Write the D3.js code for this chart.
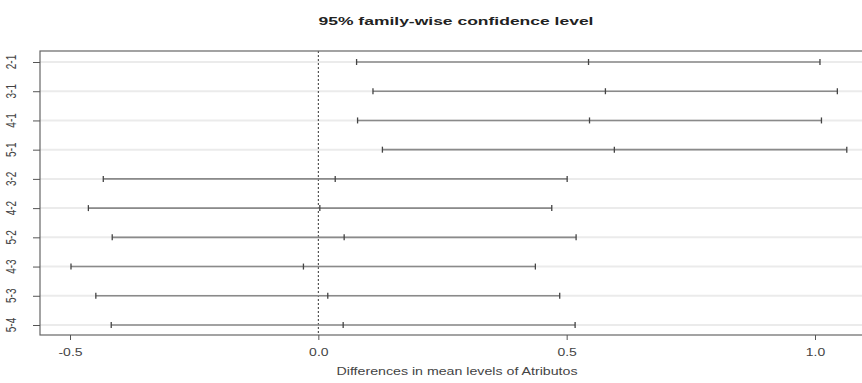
<!DOCTYPE html>
<html>
<head>
<meta charset="utf-8">
<script src="https://cdn.jsdelivr.net/npm/d3@7"></script>
<style>
  html, body { margin: 0; padding: 0; background: #fff; }
  svg { display: block; font-family: "Liberation Sans", Arial, sans-serif; }
</style>
</head>
<body>
<svg id="chart" width="862" height="383"></svg>
<script>
// Tukey HSD pairwise comparisons of Atributos
const comparisons = ["2-1", "3-1", "4-1", "5-1", "3-2", "4-2", "5-2", "4-3", "5-3", "5-4"];
const diffs = [0.544, 0.578, 0.546, 0.596, 0.034, 0.003, 0.052, -0.030, 0.019, 0.050];
const lowers = [0.077, 0.110, 0.079, 0.129, -0.433, -0.463, -0.415, -0.498, -0.448, -0.417];
const uppers = [1.010, 1.045, 1.013, 1.064, 0.501, 0.470, 0.519, 0.437, 0.486, 0.517];
const xTicks = [-0.5, 0.0, 0.5, 1.0];
const xTickLabels = ["-0.5", "0.0", "0.5", "1.0"];

const titleText = "95% family-wise confidence level";
const xLabelText = "Differences in mean levels of Atributos";

const svg = d3.select("#chart");
const box = { left: 40, top: 51, right: 872, bottom: 335 };
const stretch = 1.4; // horizontal glyph stretch of the rendered device

const x = d3.scaleLinear().domain([-0.5, 1.0]).range([70, 815]);
const y = d3.scalePoint().domain(comparisons).range([62, 325]);

// light horizontal guide lines at each comparison
svg.append("g").selectAll("line")
  .data(comparisons)
  .join("line")
  .attr("x1", box.left).attr("x2", box.right)
  .attr("y1", d => y(d)).attr("y2", d => y(d))
  .attr("stroke", "#ebebeb").attr("stroke-width", 2);

// zero reference line
svg.append("line")
  .attr("x1", x(0)).attr("x2", x(0))
  .attr("y1", box.top).attr("y2", box.bottom)
  .attr("stroke", "#333").attr("stroke-width", 1)
  .attr("stroke-dasharray", "2,2");

// confidence intervals
const rows = comparisons.map((c, i) => ({ c, diff: diffs[i], lwr: lowers[i], upr: uppers[i] }));
const ci = svg.append("g");
ci.selectAll("line.ci")
  .data(rows)
  .join("line")
  .attr("class", "ci")
  .attr("x1", d => x(d.lwr)).attr("x2", d => x(d.upr))
  .attr("y1", d => y(d.c)).attr("y2", d => y(d.c))
  .attr("stroke", "#8a8a8a").attr("stroke-width", 1.6);

const markLen = 3;
["lwr", "diff", "upr"].forEach(k => {
  ci.selectAll("line.m-" + k)
    .data(rows)
    .join("line")
    .attr("class", "m-" + k)
    .attr("x1", d => x(d[k])).attr("x2", d => x(d[k]))
    .attr("y1", d => y(d.c) - markLen).attr("y2", d => y(d.c) + markLen)
    .attr("stroke", "#444").attr("stroke-width", 1.3);
});

// plot frame
svg.append("rect")
  .attr("x", box.left).attr("y", box.top)
  .attr("width", box.right - box.left).attr("height", box.bottom - box.top)
  .attr("fill", "none").attr("stroke", "#666").attr("stroke-width", 1.2);

// x axis
const xAxis = svg.append("g")
  .attr("transform", `translate(0,${box.bottom})`)
  .call(d3.axisBottom(x).tickValues(xTicks).tickSize(5)
    .tickFormat((d, i) => xTickLabels[i]));
xAxis.select(".domain").remove();
xAxis.selectAll(".tick line").attr("stroke", "#555");
xAxis.selectAll(".tick text").remove();
xAxis.selectAll(".tick").append("text")
  .attr("transform", `translate(0,21) scale(${stretch},1)`)
  .attr("text-anchor", "middle")
  .attr("fill", "#444")
  .attr("font-size", 10)
  .text((d, i) => xTickLabels[i]);

// y axis
const yAxis = svg.append("g")
  .attr("transform", `translate(${box.left},0)`)
  .call(d3.axisLeft(y).tickSize(7).tickFormat(""));
yAxis.select(".domain").remove();
yAxis.selectAll(".tick line").attr("stroke", "#555");
svg.append("g").selectAll("text")
  .data(comparisons)
  .join("text")
  .attr("transform", d => `translate(16,${y(d)}) scale(${stretch},1) rotate(-90)`)
  .attr("text-anchor", "middle")
  .attr("fill", "#444")
  .attr("font-size", 10)
  .text(d => d);

// title and axis title
svg.append("text")
  .attr("x", 456).attr("y", 25)
  .attr("text-anchor", "middle")
  .attr("font-size", 11).attr("font-weight", "bold")
  .attr("fill", "#222")
  .attr("textLength", 275).attr("lengthAdjust", "spacingAndGlyphs")
  .text(titleText);

svg.append("text")
  .attr("x", 457).attr("y", 375)
  .attr("text-anchor", "middle")
  .attr("font-size", 10)
  .attr("fill", "#444")
  .attr("textLength", 241).attr("lengthAdjust", "spacingAndGlyphs")
  .text(xLabelText);
</script>
</body>
</html>
